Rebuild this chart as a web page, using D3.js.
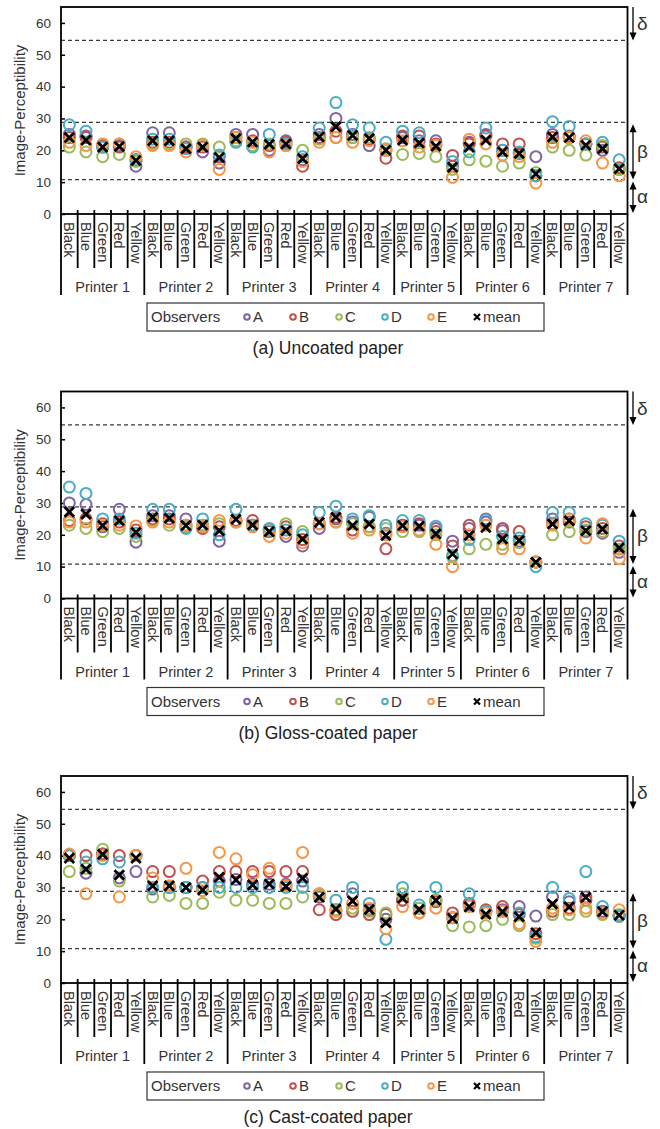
<!DOCTYPE html>
<html lang="en">
<head>
<meta charset="UTF-8">
<title>Image-Perceptibility of printed colours</title>
<style>
    body {
        margin: 0;
        background: #fff;
    }
    svg {
        display: block;
        font-family: 'Liberation Sans', Arial, sans-serif;
    }
</style>
</head>
<body>
<svg id="chart" width="660" height="1129"></svg>

<script src="https://d3js.org/d3.v7.min.js"></script>
<script>
    // categories (Printer 5 has no red patch)
    const printers = ["Printer 1", "Printer 2", "Printer 3", "Printer 4", "Printer 5", "Printer 6", "Printer 7"];
    const printerColours = [
        ["Black", "Blue", "Green", "Red", "Yellow"],
        ["Black", "Blue", "Green", "Red", "Yellow"],
        ["Black", "Blue", "Green", "Red", "Yellow"],
        ["Black", "Blue", "Green", "Red", "Yellow"],
        ["Black", "Blue", "Green", "Yellow"],
        ["Black", "Blue", "Green", "Red", "Yellow"],
        ["Black", "Blue", "Green", "Red", "Yellow"]
    ];

    const observers = ["A", "B", "C", "D", "E"];
    const observerColours = ["#8064A2", "#C0504D", "#9BBB59", "#4BACC6", "#F79646"];

    // zone borders (dashed lines) and their labels
    const zoneBorders = [10.8, 28.8, 54.5];
    const zones = [
        { label: "δ", from: 65, to: 54.5, headTop: false },
        { label: "β", from: 28.8, to: 10.8, headTop: true },
        { label: "α", from: 10.8, to: 0, headTop: true }
    ];

    const yTicks = [0, 10, 20, 30, 40, 50, 60];

    // (a) uncoated paper
    const uncoatedA = [25, 24.5, 21, 21.5, 15, 25.5, 25.5, 21, 19.5, 16, 25, 25, 20, 23, 17, 25, 30, 25, 21.5, 20, 24, 23, 23, 15, 22.5, 25, 20, 19, 18, 25, 24, 22, 20, 14];
    const uncoatedB = [24, 24, 21.5, 21, 17, 22.5, 22.5, 21, 21, 18, 24, 23, 21.5, 22.5, 15, 24, 26, 24, 23.5, 17.5, 24.5, 24.5, 22, 18.4, 22, 24.5, 22, 22, 12, 24, 24.5, 22, 21, 14.5];
    const uncoatedC = [21, 19.5, 18, 18.7, 16.5, 22, 22, 22, 22, 21, 23, 21.5, 22, 21.5, 20, 23.5, 24, 24, 24, 20.5, 18.7, 19, 18, 14, 17, 16.6, 15, 16, 13, 21, 20, 18.5, 21.5, 14];
    const uncoatedD = [28, 26, 21, 22, 17, 23.5, 23.5, 20.5, 21.5, 18.5, 22.5, 21, 25, 22, 18, 27, 35, 28, 27, 22.5, 26, 25.5, 21.5, 16.5, 19.5, 27, 20, 19.5, 12, 29, 27.5, 22, 22.5, 17];
    const uncoatedE = [22.5, 21.5, 22, 22, 18, 21.5, 21.5, 19.5, 21.5, 14, 24, 22.5, 19.5, 21.5, 16.5, 22.5, 24, 22.5, 23, 20, 23, 21, 21.5, 11.5, 23.5, 22, 18.5, 18, 9.7, 22.5, 24, 23, 16, 12];
    const uncoatedMean = [24, 23.2, 21, 21.2, 16.8, 23, 23, 20.5, 21, 17.7, 23.7, 22.6, 21.9, 22, 17.4, 24.2, 27.4, 24.7, 23.7, 20, 23.2, 22.3, 21.3, 14.7, 21, 23.2, 19.5, 19, 12.6, 24.2, 24, 21.6, 20.5, 14.2];

    // (b) gloss-coated paper
    const glossA = [30, 29.5, 22.5, 28, 17.7, 26, 26, 25, 23, 18, 24.5, 23, 21, 19.5, 16.5, 22, 25, 24, 25.5, 20.5, 23, 23, 22, 18, 22, 24, 21.3, 18, 11.5, 25, 25, 21, 20.5, 14.5];
    const glossB = [24.5, 25, 23.5, 24, 21.5, 25, 25, 23, 22, 22.5, 24.5, 24.5, 21.5, 22.5, 18.5, 23.5, 25.5, 21.5, 22.5, 15.6, 23, 23.5, 21, 16.5, 23, 25, 22, 21, 11.5, 23.5, 24, 22.5, 22, 16.5];
    const glossC = [23, 22, 21, 22, 19.5, 24.5, 23, 22.5, 23, 23.5, 24, 23, 21.5, 23.5, 21, 23.5, 24, 23.5, 22.5, 22, 21, 21, 20, 13, 15.6, 17, 17, 17.5, 11.5, 20, 21, 21.5, 21, 15.5];
    const glossD = [35, 33, 25, 25, 20.5, 28, 28, 22, 25, 20, 28, 23, 22, 21.5, 20, 27, 29, 25, 26, 23, 24.5, 24.5, 22.7, 13.5, 18.5, 24.7, 19.5, 19, 10, 27, 27, 23.5, 23, 18];
    const glossE = [24, 24, 23, 23, 22.8, 24, 24, 23, 22.5, 24.5, 24, 22.5, 19.5, 20.5, 17.5, 23.5, 24, 20.5, 21.5, 20, 22.5, 21.5, 17, 10, 20, 23, 15.6, 15.6, 11.5, 23, 25, 19, 23.5, 12.5];
    const glossMean = [27.2, 26.5, 22.9, 24.4, 20.8, 25.5, 25.2, 22.9, 23.1, 21.3, 24.9, 23.1, 21, 21.3, 18.7, 23.9, 25.5, 22.9, 23.4, 19.8, 22.9, 22.7, 20.3, 14, 19.8, 22.3, 18.7, 18.2, 11.4, 23.4, 24.4, 21.3, 21.8, 15.9];

    // (c) cast-coated paper
    const castA = [40, 34.5, 40.5, 33, 35, 29.5, 30, 30, 30, 32, 32.5, 31, 31, 31, 32, 27, 23, 28, 23, 20, 26, 23.5, 26, 20.5, 24.5, 22.5, 23, 24, 21, 27, 25.5, 27, 22.5, 21];
    const castB = [40, 40, 40.5, 40, 40, 35, 35, 30, 32, 35, 35, 35, 35, 35, 35, 23, 21.5, 22.5, 21.5, 21.5, 26, 22, 25.5, 22, 25, 23, 24, 21.5, 15.5, 22.5, 23.5, 26, 22, 21];
    const castC = [35, 36, 42, 32, 40, 27, 27.5, 25, 25, 28.5, 26, 26, 25, 25, 27, 27.5, 23, 23.5, 22.5, 22, 28, 23.5, 26, 18, 17.6, 18, 20, 18, 14, 21.5, 21.5, 22.5, 21.5, 21.5];
    const castD = [40, 38, 39, 38, 40, 30, 30, 30, 30, 30, 30, 30, 30, 30, 30, 28, 26, 30, 25, 13.7, 30, 24.5, 30, 20.5, 28, 22.5, 22.5, 22, 14.5, 30, 26.5, 35, 24, 21];
    const castE = [40.5, 28, 40, 27, 40, 33, 30.5, 36, 29, 41, 39, 34, 36, 30.5, 41, 28, 22.5, 25, 23.5, 17, 24, 22, 23.5, 20.5, 24, 22, 22.5, 18.7, 13, 23.5, 23, 23.5, 22, 23];
    const castMean = [39.2, 35.7, 40.4, 33.9, 39.2, 30.5, 30.5, 30, 29.2, 33.2, 32.4, 30.8, 31.1, 30.3, 32.9, 26.9, 23.2, 25.8, 23.1, 18.9, 26.6, 23.1, 26, 20.3, 23.9, 21.6, 22.4, 20.8, 15.8, 24.8, 23.9, 26.9, 22.4, 21.3];

    const panels = [
        { caption: "(a) Uncoated paper", series: [uncoatedA, uncoatedB, uncoatedC, uncoatedD, uncoatedE], mean: uncoatedMean },
        { caption: "(b) Gloss-coated paper", series: [glossA, glossB, glossC, glossD, glossE], mean: glossMean },
        { caption: "(c) Cast-coated paper", series: [castA, castB, castC, castD, castE], mean: castMean }
    ];

    const categories = [];
    printers.forEach((p, i) => {
        printerColours[i].forEach(c => categories.push({ printer: p, colour: c, key: p + "|" + c }));
    });

    const panelStep = 384.5;
    const plotLeft = 61, plotRight = 627.5, plotTop = 7, plotBottom = 214;
    const textColour = "#333";

    const x = d3.scaleBand()
        .domain(categories.map(d => d.key))
        .range([plotLeft, plotRight]);
    const bw = x.bandwidth();
    const cx = k => x(categories[k].key) + bw / 2;

    const y = d3.scaleLinear()
        .domain([0, 65])
        .range([plotBottom, plotTop]);

    const svg = d3.select("#chart");

    panels.forEach((p, i) => {
        const g = svg.append("g").attr("transform", `translate(0,${i * panelStep})`);
        drawPanel(g, p);
    });

    function drawPanel(g, p) {
        // dashed zone borders
        g.selectAll(".zone-line")
            .data(zoneBorders)
            .join("line")
            .attr("class", "zone-line")
            .attr("x1", plotLeft).attr("x2", plotRight)
            .attr("y1", d => y(d)).attr("y2", d => y(d))
            .attr("stroke", "#3a3a3a")
            .attr("stroke-width", 1.2)
            .attr("stroke-dasharray", "4,3");

        // y axis
        const yAxis = d3.axisLeft(y)
            .tickValues(yTicks)
            .tickSizeInner(-4)
            .tickSizeOuter(0)
            .tickPadding(10);
        const ya = g.append("g")
            .attr("transform", `translate(${plotLeft},0)`)
            .call(yAxis)
            .attr("font-family", null)
            .attr("font-size", null);
        ya.select(".domain").remove();
        ya.selectAll(".tick line").attr("stroke", "#000").attr("stroke-width", 1.5);
        ya.selectAll(".tick text")
            .attr("fill", textColour)
            .style("font-size", "13.5px");

        g.append("text")
            .attr("transform", `translate(20,${(plotTop + plotBottom) / 2}) rotate(-90)`)
            .attr("text-anchor", "middle")
            .attr("dy", "0.35em")
            .attr("fill", textColour)
            .style("font-size", "15px")
            .text("Image-Perceptibility");

        // plot frame
        g.append("rect")
            .attr("x", plotLeft).attr("y", plotTop)
            .attr("width", plotRight - plotLeft)
            .attr("height", plotBottom - plotTop)
            .attr("fill", "none")
            .attr("stroke", "#000")
            .attr("stroke-width", 1.8);

        // category separators: short ones between colours, long ones between printers
        const bounds = categories.map((d, k) => ({
            x: x(d.key),
            group: k === 0 || categories[k - 1].printer !== d.printer,
            edge: k === 0
        }));
        bounds.push({ x: plotRight, group: true, edge: true });
        g.selectAll(".sep")
            .data(bounds)
            .join("line")
            .attr("class", "sep")
            .attr("x1", d => d.x).attr("x2", d => d.x)
            .attr("y1", d => d.edge ? plotBottom : plotBottom - 4)
            .attr("y2", d => d.group ? 295 : 268)
            .attr("stroke", "#000")
            .attr("stroke-width", 1.8);

        g.selectAll(".cat")
            .data(categories)
            .join("text")
            .attr("class", "cat")
            .attr("transform", (d, k) => `translate(${cx(k)},${plotBottom + 8}) rotate(90)`)
            .attr("dy", "0.35em")
            .attr("fill", textColour)
            .style("font-size", "14.5px")
            .text(d => d.colour);

        const groups = d3.groups(categories, d => d.printer);
        g.selectAll(".printer")
            .data(groups)
            .join("text")
            .attr("class", "printer")
            .attr("x", d => (x(d[1][0].key) + x(d[1][d[1].length - 1].key) + bw) / 2)
            .attr("y", 287)
            .attr("dy", "0.35em")
            .attr("text-anchor", "middle")
            .attr("fill", textColour)
            .style("font-size", "14.5px")
            .text(d => d[0]);

        // zone arrows on the right
        const ax = 633;
        zones.forEach(z => {
            const y0 = y(z.from) + (z.headTop ? 2 : 0);
            const y1 = y(z.to) - (z.to > 0 ? 0 : 1);
            g.append("line")
                .attr("x1", ax).attr("x2", ax)
                .attr("y1", z.headTop ? y0 + 6 : y0)
                .attr("y2", y1 - 6)
                .attr("stroke", "#000")
                .attr("stroke-width", 1.3);
            g.append("path")
                .attr("d", `M${ax - 3.5},${y1 - 8}L${ax + 3.5},${y1 - 8}L${ax},${y1}Z`)
                .attr("fill", "#000");
            if (z.headTop) {
                g.append("path")
                    .attr("d", `M${ax - 3.5},${y0 + 8}L${ax + 3.5},${y0 + 8}L${ax},${y0}Z`)
                    .attr("fill", "#000");
            }
            g.append("text")
                .attr("x", 637)
                .attr("y", (y(z.from) + y(z.to)) / 2)
                .attr("dy", "0.35em")
                .attr("fill", textColour)
                .style("font-size", "19px")
                .text(z.label);
        });

        // observer markers
        p.series.forEach((values, j) => {
            g.append("g")
                .selectAll("circle")
                .data(values)
                .join("circle")
                .attr("cx", (d, k) => cx(k))
                .attr("cy", d => y(d))
                .attr("r", 5.5)
                .attr("fill", "none")
                .attr("stroke", observerColours[j])
                .attr("stroke-width", 2);
        });

        // mean crosses
        const s = 4.8;
        g.append("g")
            .selectAll("path")
            .data(p.mean)
            .join("path")
            .attr("d", (d, k) => {
                const px = cx(k), py = y(d);
                return `M${px - s},${py - s}L${px + s},${py + s}M${px - s},${py + s}L${px + s},${py - s}`;
            })
            .attr("stroke", "#000")
            .attr("stroke-width", 2.8)
            .attr("fill", "none");

        // legend
        const lg = g.append("g");
        lg.append("rect")
            .attr("x", 147).attr("y", 303)
            .attr("width", 397).attr("height", 28)
            .attr("fill", "#fff")
            .attr("stroke", "#333")
            .attr("stroke-width", 1.2);
        lg.append("text")
            .attr("x", 151).attr("y", 317)
            .attr("dy", "0.35em")
            .attr("fill", textColour)
            .style("font-size", "15px")
            .text("Observers");
        observers.forEach((o, j) => {
            const lx = 247 + j * 46;
            lg.append("circle")
                .attr("cx", lx).attr("cy", 317)
                .attr("r", 2.8)
                .attr("fill", "none")
                .attr("stroke", observerColours[j])
                .attr("stroke-width", 2);
            lg.append("text")
                .attr("x", lx + 6).attr("y", 317)
                .attr("dy", "0.35em")
                .attr("fill", textColour)
                .style("font-size", "15px")
                .text(o);
        });
        const mx = 247 + observers.length * 46;
        lg.append("path")
            .attr("d", `M${mx - 3},${314}L${mx + 3},${320}M${mx - 3},${320}L${mx + 3},${314}`)
            .attr("stroke", "#000")
            .attr("stroke-width", 2.2);
        lg.append("text")
            .attr("x", mx + 6).attr("y", 317)
            .attr("dy", "0.35em")
            .attr("fill", textColour)
            .style("font-size", "15px")
            .text("mean");

        g.append("text")
            .attr("x", 328).attr("y", 348)
            .attr("dy", "0.35em")
            .attr("text-anchor", "middle")
            .attr("fill", "#222")
            .style("font-size", "17.5px")
            .text(p.caption);
    }
</script>
</body>
</html>
